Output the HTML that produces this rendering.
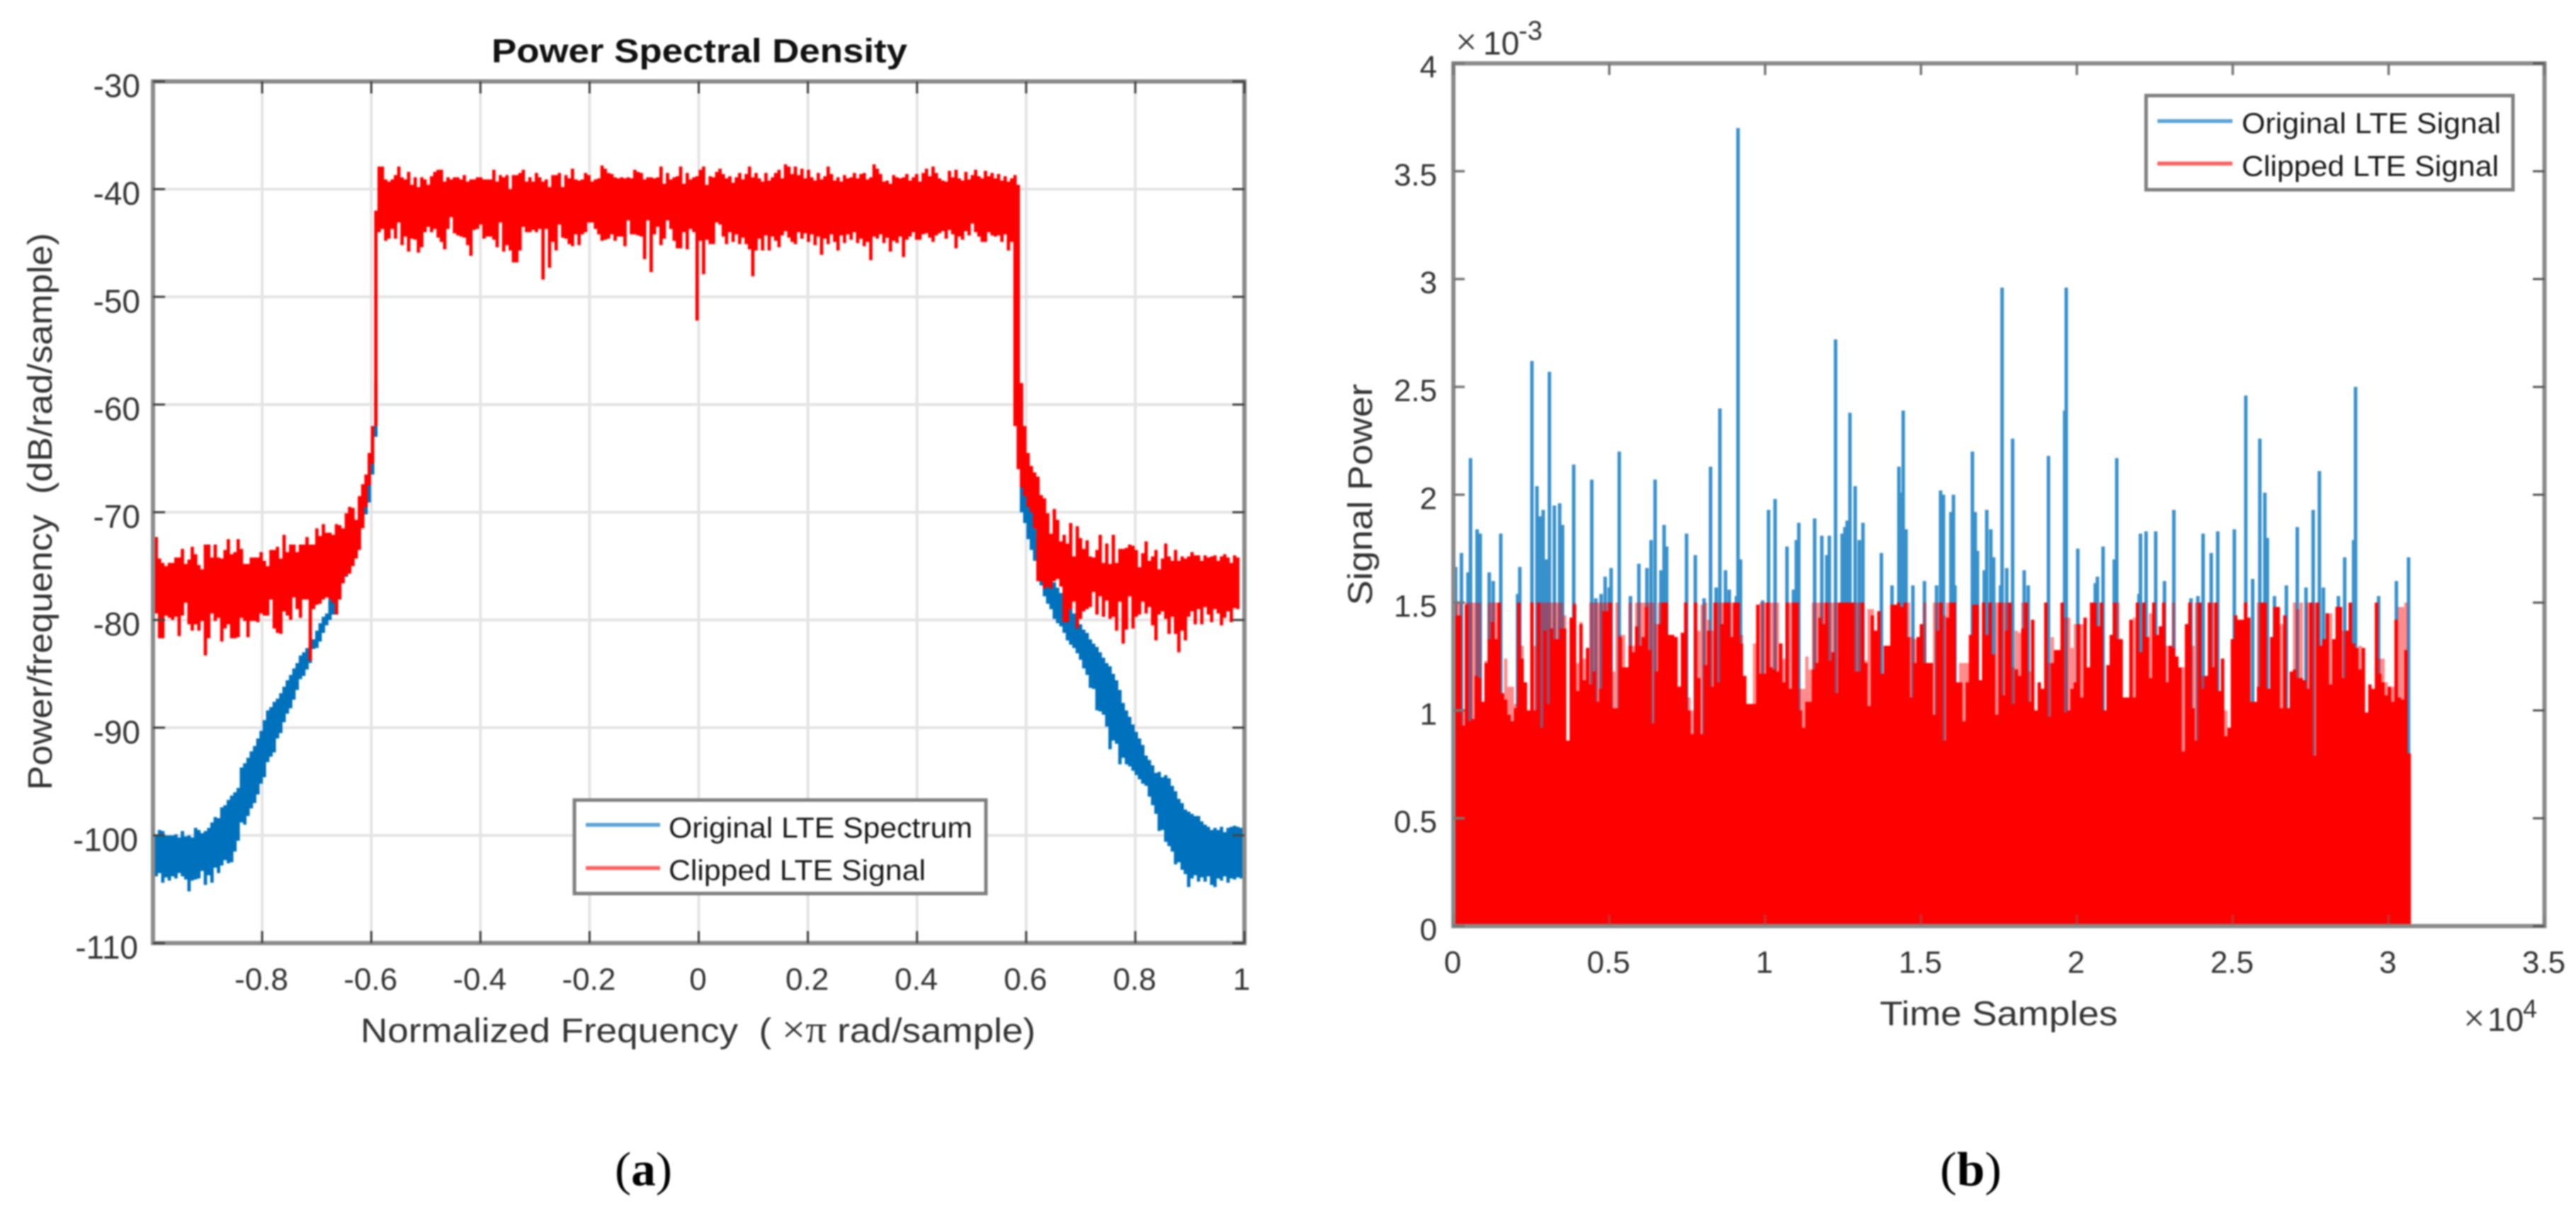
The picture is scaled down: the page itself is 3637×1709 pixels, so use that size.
<!DOCTYPE html>
<html lang="en">
<head>
<meta charset="utf-8">
<title>Power Spectral Density and Signal Power</title>
<style>
html,body{margin:0;padding:0;background:#fff;width:3637px;height:1709px;overflow:hidden}
svg{display:block;filter:blur(1.1px)}
text{font-family:"Liberation Sans",sans-serif;fill:#333}
</style>
</head>
<body>
<svg id="fig" xmlns="http://www.w3.org/2000/svg" width="3637" height="1709" viewBox="0 0 3637 1709">
<rect width="3637" height="1709" fill="#fff"/>
<g id="panelA"></g>
<g id="panelB"></g>

<text x="694" y="88" font-size="47" font-weight="bold" style="fill:#111" textLength="587" lengthAdjust="spacingAndGlyphs">Power Spectral Density</text>
<text transform="translate(73,1116) rotate(-90)" font-size="48" textLength="787" lengthAdjust="spacingAndGlyphs" xml:space="preserve">Power/frequency  (dB/rad/sample)</text>
<text x="509" y="1472" font-size="48" textLength="953" lengthAdjust="spacingAndGlyphs" xml:space="preserve">Normalized Frequency  ( <tspan style="font-family:'Liberation Serif',serif" font-size="54">×π</tspan> rad/sample)</text>

<text transform="translate(1937,855) rotate(-90)" font-size="48" textLength="313" lengthAdjust="spacingAndGlyphs">Signal Power</text>
<text x="2654" y="1448" font-size="48" textLength="336" lengthAdjust="spacingAndGlyphs">Time Samples</text>
<text x="2055" y="77" font-size="46"><tspan style="font-family:'Liberation Serif',serif" font-size="54">×</tspan><tspan x="2094">10</tspan><tspan x="2144" y="56" font-size="38">-3</tspan></text>
<text x="3478" y="1456" font-size="46"><tspan style="font-family:'Liberation Serif',serif" font-size="54">×</tspan><tspan x="3512">10</tspan><tspan x="3562" y="1437" font-size="36">4</tspan></text>

<text x="868" y="1674" font-size="68" textLength="81" lengthAdjust="spacingAndGlyphs" style="font-family:'Liberation Serif',serif;fill:#000">(<tspan font-weight="bold">a</tspan>)</text>
<text x="2739" y="1674" font-size="68" textLength="87" lengthAdjust="spacingAndGlyphs" style="font-family:'Liberation Serif',serif;fill:#000">(<tspan font-weight="bold">b</tspan>)</text>
</svg>

<script>
// ---------- PSD chart data (dB/rad/sample, one value per frequency column) ----------
const psdXTicks = [-0.8,-0.6,-0.4,-0.2,0,0.2,0.4,0.6,0.8,1];
const psdXTickLabels = ['-0.8','-0.6','-0.4','-0.2','0','0.2','0.4','0.6','0.8','1'];
const psdYTicks = [-30,-40,-50,-60,-70,-80,-90,-100,-110];
const psdYTickLabels = ['-30','-40','-50','-60','-70','-80','-90','-100','-110'];

const clippedPsdTop = [
-74.8,-72.3,-74.3,-74.7,-75,-74.7,-74.7,-74.2,-74.2,-73.4,-74.8,-74.4,-73.2,-73.9,-74.9,-75.3,-73,-73,-74.2,-73,-74.2,-74.3,-73.5,-72.5,-73.9,-73.7,-72.5,-73.4,-74.8,-74.8,-74.2,-74.2,-74.2,-73.7,-74.5,-75,-73.5,-73.5,-73.2,-74.3,-72.1,-73.7,-73,-73,-73.7,-73,-73,-72.3,-73,
-73,-71.5,-72.2,-71.1,-71.9,-71.9,-72.1,-71.1,-71.2,-71.5,-70.1,-69.5,-69.6,-70.7,-68.5,-67.4,-66.5,-64.5,-62,-42,
-37.9,-37.9,-39.1,-39.3,-39.1,-38.7,-37.9,-38.9,-39.1,-38.4,-39.6,-38.9,-39.8,-38.9,-39.1,-39.6,-38.8,-38.4,-38.2,-38.2,-39.3,-38.9,-39.1,-38.9,-38.9,-39.1,-38.7,-39.3,-39.1,-39.1,-38.9,-38.9,-39.1,-39.1,-39.1,-38.2,-39.3,-38.7,-38.9,-38.7,-40,-38.7,-38.7,-38.5,-38.2,-39.3,-38.9,-39.3,-38.5,-38.9,-39.3,-39.1,-39.8,-38.7,-38.7,-38.5,-39.8,-38.7,-39,-38.1,-39.1,-39.2,-39.1,-38.5,-38.7,-39.3,-39.1,-39,-37.8,-38.1,-38.5,-38.6,-38.9,-39,-38.9,-39,-38.9,-39,-38.2,-38.4,-38.5,-39.1,-38.9,-38.9,-39,-38.9,-37.9,-39.5,-38.5,-39.1,-38.9,-38.8,-37.9,-39.5,-38.5,-39.1,-38.9,-38.8,-38.2,-37.9,-39.6,-38.8,-38.9,-38.4,-38.1,-38.6,
-39,-38.8,-39.4,-38.9,-38.5,-39.1,-38.6,-37.9,-38.9,-38.5,-39,-39.3,-38.5,-39.2,-38.9,-38.5,-38.2,-39,-37.7,-37.9,-38.6,-37.9,-38.7,-38.1,-39,-38.2,-38.9,-39.2,-38.5,-39.1,-38.8,-37.9,-38.6,-39.2,-38.9,-39.3,-38.7,-39,-38.9,-38.5,-39,-38.6,-38.5,-39.1,-38.9,-37.7,-38.1,-38.6,-39.3,-39.2,-39.5,-38.7,-38.9,-39,-38.9,-38.6,-39.2,-38.9,-38.6,-39.3,-38.5,-38.1,-38.8,-37.9,-38.5,-39,-39.2,-39.3,-38.3,-38.9,-38.2,-39,-39.2,-38.4,-39.1,-38.7,-38.2,-38.8,-39,-38.3,-38.8,-38.5,-39,-38.6,-39.2,-38.8,-39.3,-39,-38.7,-39.6,
-58,-62,-64.5,-65.7,-66.3,-66.7,-68.4,-68.7,-70.1,-72,-69.7,-70.7,-72.7,-72.1,-72.9,-71,-74.1,-71.3,-72.4,-73.4,-72.6,-74.1,-74.2,-73.5,-72.1,-74.7,-72.9,-74.8,-72.1,-74.7,-73.4,-73.4,-73.3,-73,-73.1,-73.5,-75.1,-73.8,-72.7,-74.5,-74.1,-73.5,-75.3,-74.3,-72.9,-74.1,-74.5,-73.5,-74.5,-74.1,-74.3,-74.1,-73.7,-74,-74,-74.5,-74,-74.2,-74.1,-74,-74.5,-74.1,-73.9,-74.2,-74.7,-74,-74.2,-74.1];

const clippedPsdBottom = [
-78.4,-79.4,-81.7,-81.7,-79.6,-79.8,-80,-79.7,-81.5,-79.6,-78.4,-80.4,-81,-80.4,-81,-80.1,-83.3,-81.7,-79.4,-80.1,-79.8,-82,-80.8,-80.4,-81.7,-81.7,-81.6,-79.8,-80.1,-81.6,-80.1,-80.1,-80.2,-79.4,-79.6,-79.6,-78.1,-80.8,-81.2,-81.3,-79.2,-79.6,-80,-77.9,-79,-79.8,-78.1,-78.1,-83.8,
-79,-78.6,-78.5,-78.1,-77.9,-78.1,-78.4,-79.5,-78.1,-76.6,-75.9,-75.7,-75,-74.3,-73.5,-71.5,-69.5,-67.5,-65.5,-62,
-44,-43.7,-44.8,-44.6,-43.7,-44.6,-43.1,-45.2,-44.4,-45.8,-44.6,-44.7,-45.9,-45.4,-44,-43.5,-44,-43.7,-44.5,-44.9,-45.6,-43.7,-42.6,-44.1,-44.3,-44.4,-44.5,-45.2,-46.2,-43.8,-43.7,-43.3,-44.6,-44.4,-44.4,-44.7,-45.4,-43.1,-45.8,-45.2,-45.7,-46.8,-46.8,-45.7,-43.5,-44,-44,-43.8,-44,-43.7,-48.4,-43.7,-47.3,-44.9,-45.7,-43.3,-44.5,-44.6,-45.1,-45.3,-44.2,-45.2,-44.2,-44,-43.1,-43.1,-43.7,-44.2,-44.8,-44.7,-44.6,-44.2,-44.8,-44.4,-44.4,-45.3,-42.9,-44.2,-44.2,-44.3,-44.4,-46.5,-42.9,-47.7,-44.2,-43.5,-45.2,-44.6,-42.9,-43.7,-44.8,-45.5,-45.5,-44,-45.6,-43.7,-44,-52.2,-44.8,-47.9,-44.7,-45.1,-45.1,-43.1,-43.3,-44.4,
-45.1,-44,-44.9,-44.2,-45.1,-44.5,-45.1,-45.6,-48.1,-45.7,-44.6,-45.7,-44.3,-45.7,-44.4,-44.8,-45.4,-44.3,-43.9,-44.5,-44.9,-45.1,-44,-44.6,-44.1,-44.9,-44.2,-45.2,-44.4,-46.1,-44.6,-45.1,-44.2,-44.9,-45.7,-44.3,-45,-44.2,-44.7,-44,-45,-44.6,-45.3,-44.9,-46.6,-44.4,-44.6,-44.2,-45,-44.5,-45.8,-44.8,-45,-44.4,-46.3,-44.7,-44.4,-44,-44.7,-44.7,-44.2,-44.1,-44.5,-44.9,-44.3,-44.1,-43.9,-44.6,-43.8,-44.2,-45.5,-44.4,-44.7,-43.9,-44.3,-43.2,-44,-44.4,-44.9,-44.9,-44,-44.3,-44.4,-44.3,-44.9,-44.2,-45.7,-44.9,-62,
-66,-67.7,-68.5,-69.5,-70,-71.5,-76.4,-76.4,-77.1,-76.9,-77.1,-76.4,-76.2,-76.9,-80.2,-80.2,-79,-78.3,-80.8,-79.9,-79.2,-79,-78.8,-77.4,-79.5,-77.8,-79.7,-78.2,-79.9,-79.7,-81,-78.3,-82.2,-80.9,-77.8,-80.8,-79.7,-79.5,-78.3,-79.4,-78.8,-80.5,-81.9,-79.5,-79.2,-79.9,-81.3,-79.7,-81.3,-83,-81,-81.9,-79.7,-79.2,-80.4,-79,-80.4,-78.8,-79.5,-80.2,-79,-79.4,-80.5,-79.8,-79.2,-80.2,-78.9,-79];

// Original spectrum: left skirt columns, then right skirt columns (the passband is hidden under the clipped trace).
const originalLeftTop = [-99.1,-100,-99.5,-99.6,-100,-100,-100,-99.9,-100.2,-99.6,-100.1,-100,-100.2,-99.3,-99.5,-99.8,-99.6,-99.3,-98.8,-98.3,-98.4,-97.4,-97.2,-96.7,-96.3,-96,-95.6,-93.7,-93.3,-92.8,-92.2,-91.7,-91,-90.3,-89.3,-88.4,-88.1,-87.6,-87.3,-86.8,-86.2,-85.6,-85.1,-84.5,-84,-83.3,-83,-82.6,-82.2,-81.8,-81,-80.3,-79.7,-79.4,-78.1,-77.5,-76.5,-75.7,-75,-74,-73,-72.2,-71,-70,-69,-68,-66,-63,-58];
const originalLeftBottom = [-104,-103.8,-103.5,-104.4,-103.9,-104.2,-103.8,-104,-103.5,-103.8,-104.1,-105.2,-104.2,-104.1,-104,-103.3,-104.6,-103.7,-104.4,-103,-103.5,-102.8,-102.3,-102.6,-102.5,-101.5,-100.5,-98.8,-99,-98.2,-97.5,-97,-96.2,-95.2,-94.6,-93.2,-92.7,-92.3,-91,-90.5,-89.5,-88.7,-88.2,-87.4,-86.5,-85.5,-85.2,-84.6,-84,-82.7,-82.6,-82,-81.2,-80.5,-80,-79.5,-77.9,-77.5,-76.6,-76,-75.5,-74.8,-73.6,-72.2,-71.2,-70.2,-69.1,-66.5,-63];
const originalRightTop = [-64,-66,-68.5,-70,-71.5,-72.5,-74,-75,-75.5,-76,-76.5,-77,-77.5,-78,-78.6,-79,-79.4,-79.8,-80.4,-80.9,-81.2,-81.8,-82.2,-82.5,-83,-83.5,-84,-84.3,-85,-85.6,-86.5,-87.7,-88.4,-89,-89.7,-90.4,-91,-91.6,-92.6,-93,-93.5,-94.2,-94.1,-94.6,-94.4,-94.7,-95.4,-95.9,-96.6,-97,-97.6,-97.8,-98,-98.2,-98.2,-98.7,-99,-99.2,-99.5,-99.3,-99.5,-99.2,-99.7,-99.3,-99.2,-99.1,-99.2,-99.3];
const originalRightBottom = [-70,-71,-72.5,-73.5,-74.5,-75.8,-76.8,-77.8,-78.5,-79,-79.9,-80.3,-80.6,-81.2,-81.9,-82.3,-82.6,-83.1,-83.7,-84.5,-85.1,-86.3,-86.4,-88.4,-88.5,-88.8,-89.9,-92,-91.2,-91.5,-93.4,-92.8,-93.4,-93.6,-94,-94.4,-94.8,-95.2,-95.4,-96.4,-97.2,-98,-99.6,-99.5,-100.6,-101,-101.5,-102.7,-102.5,-103.2,-103.6,-104.8,-104,-103.7,-104.3,-103.9,-104.3,-103.8,-104.6,-104.8,-104,-104.2,-103.8,-104.4,-104,-104.1,-103.9,-104];

// ---------- Signal power chart data ----------
const powerXTicks = [0,0.5,1,1.5,2,2.5,3,3.5];
const powerXTickLabels = ['0','0.5','1','1.5','2','2.5','3','3.5'];
const powerYTicks = [0,0.5,1,1.5,2,2.5,3,3.5,4];
const powerYTickLabels = ['0','0.5','1','1.5','2','2.5','3','3.5','4'];

// Peaks of the original signal above the clip level: time (x10^4 samples) and power (x10^-3)
const originalPeakTimes = [0.007,0.026,0.047,0.055,0.076,0.086,0.115,0.128,0.152,0.206,0.213,0.252,0.268,0.278,0.288,0.298,0.308,0.324,0.341,0.35,0.386,0.444,0.457,0.474,0.487,0.5,0.506,0.532,0.568,0.595,0.621,0.634,0.647,0.666,0.676,0.684,0.748,0.776,0.804,0.825,0.843,0.855,0.873,0.885,0.908,0.913,0.921,0.992,1.011,1.032,1.07,1.091,1.1,1.108,1.159,1.182,1.198,1.206,1.226,1.247,1.256,1.263,1.272,1.289,1.302,1.314,1.373,1.407,1.429,1.435,1.443,1.452,1.474,1.511,1.55,1.563,1.572,1.596,1.604,1.609,1.665,1.674,1.681,1.703,1.711,1.724,1.733,1.755,1.76,1.775,1.794,1.831,1.844,1.909,1.961,1.966,2.003,2.059,2.066,2.084,2.12,2.128,2.199,2.204,2.222,2.253,2.281,2.311,2.366,2.388,2.405,2.431,2.452,2.505,2.542,2.564,2.587,2.603,2.611,2.634,2.672,2.707,2.735,2.758,2.778,2.791,2.839,2.859,2.888,2.894,2.968,3.025,3.064];
const originalPeakValues = [1.665,1.73,1.64,2.17,1.84,1.82,1.64,1.6,1.82,1.54,1.665,2.62,2.04,1.9,1.93,1.7,2.57,1.95,1.96,1.86,2.14,2.07,1.52,1.54,1.62,1.57,1.66,2.2,1.53,1.68,1.66,1.79,2.07,1.65,1.86,1.76,1.82,1.72,1.52,2.13,1.57,2.4,1.65,1.56,1.53,3.7,1.7,1.51,1.93,1.98,1.76,1.56,1.79,1.87,1.89,1.81,1.72,1.81,2.72,1.82,1.85,1.88,2.38,2.04,1.79,1.87,1.73,1.58,2.13,2.01,2.39,1.84,1.58,1.6,1.58,2.02,2,1.92,2,1.58,2.2,1.92,1.74,1.65,1.93,1.84,1.71,1.58,2.96,1.66,2.26,1.65,1.58,2.18,2.39,2.96,1.75,1.59,1.62,1.76,1.7,2.17,1.54,1.82,1.83,1.83,1.6,1.93,1.52,1.53,1.82,1.73,1.83,1.84,2.46,1.61,2.26,2.01,1.8,1.53,1.58,1.85,1.57,1.93,2.11,1.57,1.53,1.71,1.79,2.5,1.53,1.6,1.71];

// Clipped signal per time column (x10^-3): strong envelope, and fainter peak envelope
const clippedSolid = [
1.18,1.44,1.44,.93,1.49,.95,.96,1.16,1.15,1.04,1.22,1.33,1.41,1.33,1.5,1.08,1.05,.98,.95,1.01,1.5,1.24,1.13,1,1.5,1,1.5,.92,1.37,1.03,1.38,1.33,1.33,1.38,1.38,.86,1.43,1.49,1.09,1.4,1.14,1.29,1.12,1.18,1.04,1.1,1.46,1.46,1.5,1.01,1.01,1.34,1.2,1.2,1.3,1.27,1.39,1.3,1.34,1.48,1.28,.94,1.18,1.4,1.5,1.5,1.35,1.35,1.34,1.11,1.36,1.5,1,.89,1.5,1.15,.89,1.21,1.37,1.11,1.5,1.13,1.4,1.5,1.5,1.34,1.5,1.5,1.31,1.16,1.03,1.03,1.03,1.49,1.17,1.17,1.5,1.2,1.19,1.18,1.31,1.13,1.5,1.1,1.5,1.5,1,.92,1.04,1.04,1.19,1.22,1.43,1.4,1.5,1.23,1.27,1.08,1.5,1.5,1.5,1.5,1.5,1.18,1.18,1.5,1.22,1.02,1.44,1.37,1.46,1.17,1.3,1.3,1.49,1.49,1.5,1.48,1.5,1.34,1.06,1.22,1.34,1.4,1.22,1.22,1.22,
.98,1.37,1.5,.86,1.43,1.5,1.5,1.13,1.13,.95,1.13,1.35,1.49,1.49,1.14,1.5,1.35,1.5,1.26,.98,1.5,1.07,1.37,1.5,1.03,1.19,1.16,1.38,1.5,1.04,1.42,1,1.13,1.1,1.5,.97,1.22,1.28,1.28,1.5,.99,1,1.1,1.13,1.4,1.06,1.43,1.2,1.5,1.5,1.39,1.5,1,1.21,1.35,1.5,1.33,1.33,1.06,1.06,1.42,1.06,1.5,1.27,1.5,1.34,1.15,1.5,1.35,1.39,1.5,1.13,1.3,1.29,1.25,1.2,.81,1.4,1.5,1.01,.86,1.5,1.1,1.16,1.5,1.2,1.5,1.09,1.24,.88,.92,1.33,1.44,1.42,1.42,1.5,1.43,1.04,1.04,1.11,1.5,1.5,1.1,1.34,1.48,1.48,1.01,1.44,1.01,1.18,1.19,1.15,1.15,1.14,1.1,1.5,.79,1.5,1.3,1.33,1.45,1.12,1.33,1.48,1.48,1.15,1.37,1.5,1.31,1.29,1.19,1.29,.99,1.12,1.1,1.5,1.17,1.13,1.07,1.11,1.04,1.42,1.06,1.05,1.28,.8];
const clippedPeak = [
1.5,1.5,1.5,1,1.5,1.5,1.5,1.5,1.5,1.04,1.23,1.5,1.5,1.5,1.5,1.08,1.24,1.11,1.11,1.03,1.5,1.3,1.13,1,1.5,1.3,1.5,1.5,1.5,1.5,1.5,1.5,1.5,1.5,1.44,.86,1.43,1.5,1.22,1.41,1.24,1.29,1.5,1.5,1.5,1.5,1.5,1.5,1.5,1.18,1.5,1.35,1.35,1.2,1.5,1.3,1.5,1.5,1.5,1.5,1.5,1.5,1.4,1.5,1.5,1.5,1.35,1.35,1.34,1.11,1.36,1.5,1.06,1,1.5,1.37,1.49,1.5,1.42,1.37,1.5,1.5,1.5,1.5,1.5,1.5,1.5,1.5,1.35,1.16,1.03,1.03,1.31,1.49,1.5,1.5,1.5,1.5,1.5,1.5,1.31,1.24,1.5,1.5,1.5,1.5,1.1,1.1,1.25,1.19,1.5,1.5,1.5,1.5,1.5,1.5,1.5,1.5,1.5,1.5,1.5,1.5,1.5,1.5,1.5,1.5,1.23,1.47,1.47,1.37,1.46,1.17,1.3,1.3,1.49,1.49,1.5,1.48,1.5,1.5,1.34,1.33,1.34,1.4,1.5,1.22,1.22,
1.5,1.5,1.5,1.44,1.5,1.5,1.5,1.13,1.22,1.22,1.22,1.35,1.49,1.49,1.14,1.5,1.35,1.5,1.26,1.5,1.5,1.5,1.5,1.5,1.2,1.37,1.36,1.5,1.5,1.18,1.42,1,1.13,1.1,1.5,1.22,1.34,1.28,1.28,1.5,1.43,1.43,1.29,1.4,1.4,1.4,1.43,1.2,1.5,1.5,1.39,1.5,1,1.21,1.35,1.5,1.5,1.33,1.06,1.06,1.42,1.43,1.5,1.27,1.5,1.34,1.45,1.5,1.35,1.39,1.5,1.3,1.3,1.5,1.25,1.2,1.2,1.4,1.5,1.3,1.5,1.5,1.16,1.16,1.5,1.5,1.5,1.09,1.24,1,.92,1.33,1.44,1.42,1.42,1.5,1.43,1.04,1.04,1.5,1.5,1.5,1.1,1.34,1.48,1.48,1.4,1.44,1.01,1.18,1.5,1.47,1.5,1.14,1.5,1.5,1.5,1.5,1.3,1.33,1.45,1.45,1.33,1.48,1.48,1.37,1.37,1.5,1.31,1.29,1.3,1.29,.99,1.12,1.1,1.5,1.24,1.24,1.13,1.11,1.11,1.42,1.48,1.48,1.5,.8];

const psdColumnCount = 333;
const timeColumnSpan = 0.0105;

// ---------- Axis functions ----------
const xA = f => 216 + (f + 1) / 2 * 1541;
const yA = db => 115 + (-30 - db) / 80 * 1217;
const xB = t => 2052 + t / 3.5 * 1540.5;
const yB = v => 1308 - v / 4 * 1218.5;
const colFreq = i => -1 + i * 2 / psdColumnCount;

const NS = 'http://www.w3.org/2000/svg';
function make(parent, tag, attrs, text) {
  const n = document.createElementNS(NS, tag);
  for (const k in attrs) n.setAttribute(k, attrs[k]);
  if (text !== undefined) n.textContent = text;
  parent.appendChild(n);
  return n;
}
function bandPath(xs, tops, bottoms, toX, toY) {
  let d = '';
  xs.forEach((x, i) => { d += 'M' + toX(x).toFixed(1) + ' ' + toY(tops[i]).toFixed(1) + 'V' + toY(bottoms[i]).toFixed(1); });
  return d;
}

// ---------- Panel A ----------
const A = document.getElementById('panelA');
psdXTicks.forEach(f => {
  const g = make(A, 'line', {x1:xA(f), x2:xA(f), y1:115, y2:1332, stroke:'#e4e4e4', 'stroke-width':4});
  
  
});
psdYTicks.forEach(v => {
  const g = make(A, 'line', {x1:216, x2:1757, y1:yA(v), y2:yA(v), stroke:'#e4e4e4', 'stroke-width':4});
  
  
});

const leftCols = originalLeftTop.map((_, i) => colFreq(i));
const rightCols = originalRightTop.map((_, i) => colFreq(i + psdColumnCount - originalRightTop.length));
const blueLeft = make(A, 'path', {d:bandPath(leftCols, originalLeftTop, originalLeftBottom, xA, yA), stroke:'#0072BD', 'stroke-width':4.8, fill:'none'});


const blueRight = make(A, 'path', {d:bandPath(rightCols, originalRightTop, originalRightBottom, xA, yA), stroke:'#0072BD', 'stroke-width':4.8, fill:'none'});



const redCols = clippedPsdTop.map((_, i) => colFreq(i));
const redBand = make(A, 'path', {d:bandPath(redCols, clippedPsdTop, clippedPsdBottom, xA, yA), stroke:'#ff0000', 'stroke-width':4.8, fill:'none'});



const boxA = make(A, 'rect', {x:216, y:115, width:1541, height:1217, fill:'none', stroke:'#8a8a8a', 'stroke-width':6});



psdXTicks.forEach((f, i) => {
  const a = make(A, 'line', {x1:xA(f), x2:xA(f), y1:115, y2:132, stroke:'#444', 'stroke-width':3});
  
  
  const b = make(A, 'line', {x1:xA(f), x2:xA(f), y1:1332, y2:1315, stroke:'#444', 'stroke-width':3});
  
  
  const t = make(A, 'text', {x:xA(f) - (f === 1 ? 4 : 1), y:1398, 'font-size':44, 'text-anchor':'middle'}, psdXTickLabels[i]);
  
  
});
psdYTicks.forEach((v, i) => {
  const a = make(A, 'line', {x1:216, x2:233, y1:yA(v), y2:yA(v), stroke:'#444', 'stroke-width':3});
  
  
  const b = make(A, 'line', {x1:1757, x2:1740, y1:yA(v), y2:yA(v), stroke:'#444', 'stroke-width':3});
  
  
  const t = make(A, 'text', {x:v <= -100 ? 195 : 198, y:yA(v) + 22, 'font-size':46, 'text-anchor':'end'}, psdYTickLabels[i]);
  
  
});

const legA = make(A, 'g', {});


const legABox = make(legA, 'rect', {x:811, y:1130, width:581, height:132, fill:'#fff', stroke:'#808080', 'stroke-width':5});


const legA1 = make(legA, 'line', {x1:827, x2:932, y1:1165, y2:1165, stroke:'#5aa5d8', 'stroke-width':5.5});


const legA2 = make(legA, 'line', {x1:827, x2:932, y1:1226, y2:1226, stroke:'#ff5f5f', 'stroke-width':5.5});


const legA3 = make(legA, 'text', {x:944, y:1183, 'font-size':41, textLength:429, lengthAdjust:'spacingAndGlyphs', style:'fill:#1a1a1a'}, 'Original LTE Spectrum');


const legA4 = make(legA, 'text', {x:944, y:1243, 'font-size':41, textLength:363, lengthAdjust:'spacingAndGlyphs', style:'fill:#1a1a1a'}, 'Clipped LTE Signal');



// ---------- Panel B ----------
const B = document.getElementById('panelB');
let spikeD = '';
originalPeakTimes.forEach((t, i) => {
  spikeD += 'M' + xB(t).toFixed(1) + ' ' + yB(0) + 'V' + yB(originalPeakValues[i]).toFixed(1);
});
const spikes = make(B, 'path', {d:spikeD, stroke:'#0072BD', 'stroke-width':5, 'stroke-opacity':0.78, fill:'none'});



const timeCols = clippedSolid.map((_, i) => i * timeColumnSpan);
const zeros = clippedSolid.map(() => 0);
const peakPath = make(B, 'path', {d:bandPath(timeCols, clippedPeak, zeros, xB, yB), stroke:'#ff0000', 'stroke-width':4.8, 'stroke-opacity':0.45, fill:'none'});


const solidPath = make(B, 'path', {d:bandPath(timeCols, clippedSolid, zeros, xB, yB), stroke:'#ff0000', 'stroke-width':4.8, fill:'none'});



const boxB = make(B, 'rect', {x:2052, y:89.5, width:1540.5, height:1218.5, fill:'none', stroke:'#8a8a8a', 'stroke-width':6});



powerXTicks.forEach((t, i) => {
  const a = make(B, 'line', {x1:xB(t), x2:xB(t), y1:89.5, y2:106, stroke:'#777', 'stroke-width':3.5});
  
  
  const b = make(B, 'line', {x1:xB(t), x2:xB(t), y1:1308, y2:1292, stroke:'#777', 'stroke-width':3.5, 'stroke-opacity':0.4});
  
  
  const l = make(B, 'text', {x:xB(t) - 1, y:1374, 'font-size':44, 'text-anchor':'middle'}, powerXTickLabels[i]);
  
  
});
powerYTicks.forEach((v, i) => {
  const a = make(B, 'line', {x1:2052, x2:2068, y1:yB(v), y2:yB(v), stroke:'#777', 'stroke-width':3.5});
  
  
  const b = make(B, 'line', {x1:3592.5, x2:3576, y1:yB(v), y2:yB(v), stroke:'#555', 'stroke-width':3});
  
  
  const l = make(B, 'text', {x:2029, y:yB(v) + 20, 'font-size':44, 'text-anchor':'end'}, powerYTickLabels[i]);
  
  
});

const legB = make(B, 'g', {});


const legBBox = make(legB, 'rect', {x:3030, y:135, width:518, height:133, fill:'#fff', stroke:'#808080', 'stroke-width':5});


const legB1 = make(legB, 'line', {x1:3046, x2:3152, y1:171, y2:171, stroke:'#5aa5d8', 'stroke-width':5.5});


const legB2 = make(legB, 'line', {x1:3046, x2:3152, y1:231, y2:231, stroke:'#ff5f5f', 'stroke-width':5.5});


const legB3 = make(legB, 'text', {x:3165, y:188, 'font-size':41, textLength:366, lengthAdjust:'spacingAndGlyphs', style:'fill:#1a1a1a'}, 'Original LTE Signal');


const legB4 = make(legB, 'text', {x:3165, y:248.5, 'font-size':41, textLength:363, lengthAdjust:'spacingAndGlyphs', style:'fill:#1a1a1a'}, 'Clipped LTE Signal');


</script>
</body>
</html>
